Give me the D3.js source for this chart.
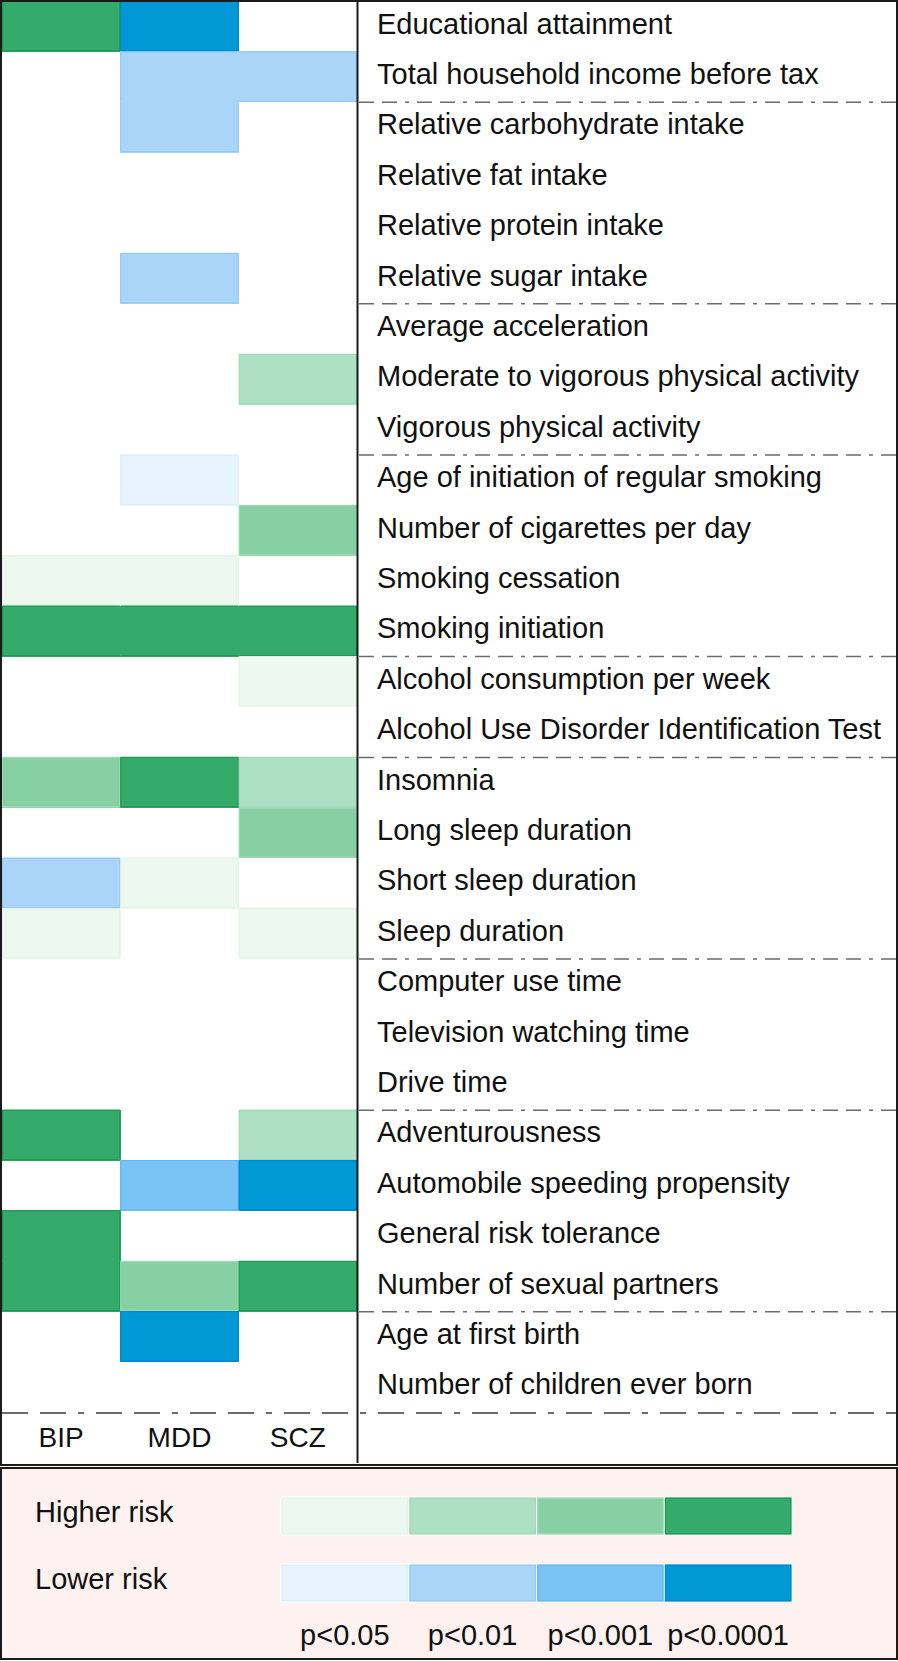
<!DOCTYPE html>
<html>
<head>
<meta charset="utf-8">
<script src="https://cdn.jsdelivr.net/npm/d3@7"></script>
<style>
  html, body { margin: 0; padding: 0; background: #ffffff; }
  svg { display: block; }
  text { font-family: "Liberation Sans", Arial, Helvetica, sans-serif; fill: #111; }
</style>
</head>
<body>
<div id="chart"></div>
<script>
// ---------------- DATA ----------------
const traits = [
  "Educational attainment",
  "Total household income before tax",
  "Relative carbohydrate intake",
  "Relative fat intake",
  "Relative protein intake",
  "Relative sugar intake",
  "Average acceleration",
  "Moderate to vigorous physical activity",
  "Vigorous physical activity",
  "Age of initiation of regular smoking",
  "Number of cigarettes per day",
  "Smoking cessation",
  "Smoking initiation",
  "Alcohol consumption per week",
  "Alcohol Use Disorder Identification Test",
  "Insomnia",
  "Long sleep duration",
  "Short sleep duration",
  "Sleep duration",
  "Computer use time",
  "Television watching time",
  "Drive time",
  "Adventurousness",
  "Automobile speeding propensity",
  "General risk tolerance",
  "Number of sexual partners",
  "Age at first birth",
  "Number of children ever born"
];
// number of traits in each group (separated by dash-dot lines)
const groupSizes = [2, 4, 3, 4, 2, 4, 3, 4, 2];
const diseases = ["BIP", "MDD", "SCZ"];
// significance level: +1..+4 higher risk, -1..-4 lower risk, 0 = not significant
const BIP = [4, 0, 0, 0, 0, 0, 0, 0, 0, 0, 0, 1, 4, 0, 0, 3, 0, -2, 1, 0, 0, 0, 4, 0, 4, 4, 0, 0];
const MDD = [-4, -2, -2, 0, 0, -2, 0, 0, 0, -1, 0, 1, 4, 0, 0, 4, 0, 1, 0, 0, 0, 0, 0, -3, 0, 3, -4, 0];
const SCZ = [0, -2, 0, 0, 0, 0, 0, 2, 0, 0, 3, 0, 4, 1, 0, 2, 3, 0, 1, 0, 0, 0, 2, -4, 0, 4, 0, 0];
const levels = [1, 2, 3, 4];
const pLabels = ["p<0.05", "p<0.01", "p<0.001", "p<0.0001"];
const riskLabels = ["Higher risk", "Lower risk"];

// ---------------- STYLE ----------------
const greenFill = ["#edf8ef", "#aee0c3", "#86d0a4", "#34aa6b"];
const greenEdge = ["#e2f3e6", "#a2dab8", "#9fdcb6", "#1b9a54"];
const blueFill  = ["#e8f4fd", "#aad5f8", "#7ac4f5", "#0099d5"];
const blueEdge  = ["#dcedfb", "#92caf6", "#62b8f2", "#0085cb"];

const W = 898, H = 1661;
const values = [BIP, MDD, SCZ];

const svg = d3.select("#chart").append("svg")
  .attr("width", W).attr("height", H);

const x = d3.scaleBand().domain(diseases).range([2, 357]);
const y = d3.scaleBand().domain(traits).range([1, 1412]);

const fillOf = v => v > 0 ? greenFill[v - 1] : blueFill[-v - 1];
const edgeOf = v => v > 0 ? greenEdge[v - 1] : blueEdge[-v - 1];

// cells
const cells = [];
traits.forEach((t, i) => diseases.forEach((d, j) => {
  cells.push({ t, d, i, j, v: values[j][i] });
}));
const sig = cells.filter(c => c.v !== 0);

svg.append("g").attr("shape-rendering", "crispEdges")
  .selectAll("rect").data(sig).join("rect")
  .attr("x", c => x(c.d))
  .attr("y", c => y(c.t))
  .attr("width", x.bandwidth() + 0.6)
  .attr("height", y.bandwidth() + 0.6)
  .attr("fill", c => fillOf(c.v));

// cell outlines where neighbour differs
const val = (i, j) => (i < 0 || i >= traits.length || j < 0 || j >= diseases.length) ? null : values[j][i];
const edges = [];
sig.forEach(c => {
  const x0 = x(c.d) + 0.5, x1 = x(c.d) + x.bandwidth() - 0.5;
  const y0 = y(c.t) + 0.5, y1 = y(c.t) + y.bandwidth() - 0.5;
  const col = edgeOf(c.v);
  if (val(c.i - 1, c.j) !== c.v) edges.push({ x1: x0, y1: y0, x2: x1, y2: y0, col });
  if (val(c.i + 1, c.j) !== c.v) edges.push({ x1: x0, y1: y1, x2: x1, y2: y1, col });
  if (val(c.i, c.j - 1) !== c.v) edges.push({ x1: x0, y1: y0, x2: x0, y2: y1, col });
  if (val(c.i, c.j + 1) !== c.v) edges.push({ x1: x1, y1: y0, x2: x1, y2: y1, col });
});
svg.append("g").selectAll("line").data(edges).join("line")
  .attr("x1", e => e.x1).attr("y1", e => e.y1)
  .attr("x2", e => e.x2).attr("y2", e => e.y2)
  .attr("stroke", e => e.col).attr("stroke-width", 1.2);

// trait labels
svg.append("g").selectAll("text").data(traits).join("text")
  .attr("x", 377)
  .attr("y", t => y(t) + y.bandwidth() / 2 + 7.5)
  .attr("font-size", 29)
  .text(t => t);

// group separators (label column)
const sepIdx = [];
let acc = 0;
groupSizes.slice(0, -1).forEach(g => { acc += g; sepIdx.push(acc); });
svg.append("g").selectAll("line").data(sepIdx).join("line")
  .attr("x1", 359).attr("x2", 896)
  .attr("y1", i => y(traits[i]) + 0.5)
  .attr("y2", i => y(traits[i]) + 0.5)
  .attr("stroke", "#6b6b6b").attr("stroke-width", 1.5)
  .attr("stroke-dasharray", "15 8 15 8 4 8");

// bottom dashed line across the full width
const yEnd = y.range()[1] + 1;
svg.append("line")
  .attr("x1", 2).attr("x2", 896)
  .attr("y1", yEnd).attr("y2", yEnd)
  .attr("stroke", "#6b6b6b").attr("stroke-width", 2)
  .attr("stroke-dasharray", "26 12 26 12 6 12");

// column labels
svg.append("g").selectAll("text").data(diseases).join("text")
  .attr("x", d => x(d) + x.bandwidth() / 2)
  .attr("y", 1447)
  .attr("text-anchor", "middle")
  .attr("font-size", 28)
  .text(d => d);

// divider and outer box
svg.append("line")
  .attr("x1", 357.5).attr("x2", 357.5).attr("y1", 1).attr("y2", 1463)
  .attr("stroke", "#1a1a1a").attr("stroke-width", 2);
svg.append("rect")
  .attr("x", 1).attr("y", 1).attr("width", 896).attr("height", 1464)
  .attr("fill", "none").attr("stroke", "#1a1a1a").attr("stroke-width", 2);

// ---------------- LEGEND ----------------
const lg = svg.append("g");
lg.append("rect")
  .attr("x", 1).attr("y", 1468).attr("width", 896).attr("height", 191)
  .attr("fill", "#fdf2ef").attr("stroke", "#1a1a1a").attr("stroke-width", 2);

const lx = d3.scaleBand().domain(levels).range([281, 792]);
const ly = d3.scaleOrdinal().domain(riskLabels).range([1497, 1564]);
const boxH = 38;

riskLabels.forEach((r, k) => {
  lg.append("text")
    .attr("x", 35)
    .attr("y", ly(r) + boxH / 2 + 6)
    .attr("font-size", 29)
    .text(r);
  const fills = k === 0 ? greenFill : blueFill;
  const strokes = k === 0 ? greenEdge : blueEdge;
  lg.append("g").selectAll("rect.f").data(levels).join("rect")
    .attr("x", l => lx(l))
    .attr("y", ly(r))
    .attr("width", lx.bandwidth())
    .attr("height", boxH)
    .attr("fill", l => fills[l - 1])
    .attr("stroke", "#ffffff").attr("stroke-width", 1.2);
  lg.append("g").selectAll("rect.s").data(levels).join("rect")
    .attr("x", l => lx(l) + 1.2)
    .attr("y", ly(r) + 1.2)
    .attr("width", lx.bandwidth() - 2.4)
    .attr("height", boxH - 2.4)
    .attr("fill", "none")
    .attr("stroke", l => strokes[l - 1]).attr("stroke-width", 1.2);
});

lg.append("g").selectAll("text").data(levels).join("text")
  .attr("x", l => lx(l) + lx.bandwidth() / 2)
  .attr("y", 1645)
  .attr("text-anchor", "middle")
  .attr("font-size", 29)
  .text(l => pLabels[l - 1]);
</script>
</body>
</html>
